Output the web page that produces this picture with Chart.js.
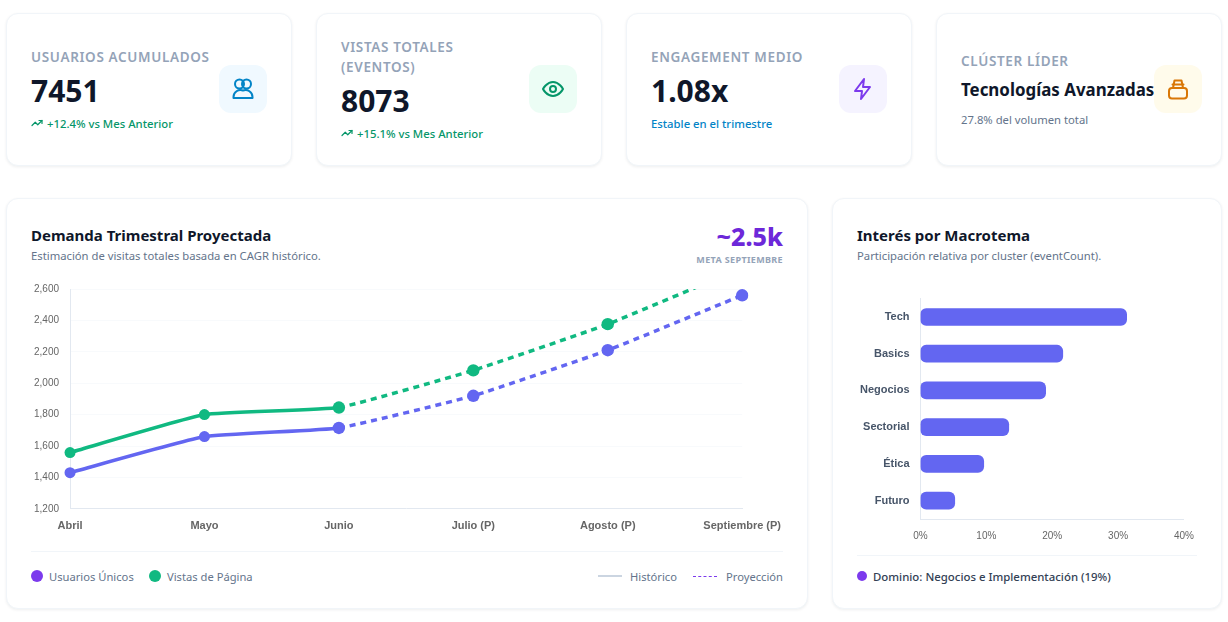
<!DOCTYPE html>
<html lang="es">
<head>
<meta charset="utf-8">
<title>Dashboard</title>
<script src="https://cdn.jsdelivr.net/npm/chart.js@4"></script>
<style>
  * { box-sizing: border-box; margin: 0; padding: 0; }
  html, body { width: 1228px; height: 622px; background: #fff; overflow: hidden; font-family: "Noto Sans", sans-serif; }
  .card { position: absolute; background: #fff; border: 1px solid #f1f5f9; border-radius: 12px; box-shadow: 0 1px 3px rgba(15,23,42,.07); }
  .abs { position: absolute; white-space: nowrap; }
  .lbl { font-size: 13.5px; line-height: 20px; font-weight: 600; color: #94a3b8; letter-spacing: .65px; }
  .val { font-size: 30px; line-height: 36px; font-weight: 700; color: #0f172a; }
  .sub { font-size: 11.3px; line-height: 16px; font-weight: 500; }
  .ico { position: absolute; width: 48px; height: 48px; border-radius: 12px; display: flex; align-items: center; justify-content: center; }
  .ico svg { width: 24px; height: 24px; fill: none; stroke-width: 2; stroke-linecap: round; stroke-linejoin: round; }
  .h2 { font-size: 15px; line-height: 20px; font-weight: 700; color: #0f172a; }
  .p { font-size: 11.27px; line-height: 16px; color: #64748b; }
  .rule { position: absolute; height: 1px; background: #f1f5f9; }
  .dot { position: absolute; width: 12px; height: 12px; border-radius: 50%; }
  .leg { font-size: 11.2px; line-height: 16px; color: #64748b; }
  canvas { position: absolute; }
</style>
</head>
<body>
<div class="card" style="left:6px;top:13px;width:286px;height:153px"></div>
<div class="card" style="left:316px;top:13px;width:286px;height:153px"></div>
<div class="card" style="left:626px;top:13px;width:286px;height:153px"></div>
<div class="card" style="left:936px;top:13px;width:286px;height:153px"></div>

<div class="abs lbl" style="left:31px;top:47px">USUARIOS ACUMULADOS</div>
<div class="abs val" style="left:31px;top:73px">7451</div>
<div class="abs sub" style="left:47px;top:116px;color:#059669">+12.4% vs Mes Anterior</div>
<svg class="abs" style="left:31px;top:117px;width:12px;height:12px" viewBox="0 0 24 24" fill="none" stroke="#059669" stroke-width="2.4" stroke-linecap="round" stroke-linejoin="round"><path d="M22 7l-8.5 8.5-5-5L2 17"/><path d="M16 7h6v6"/></svg>
<div class="ico" style="left:219px;top:65px;background:#f0f9ff"><svg viewBox="0 0 24 24" stroke="#0284c7"><circle cx="8.5" cy="7" r="4.5"/><circle cx="15.5" cy="7" r="4.5"/><path d="M2.5 21v-1a7 7 0 0 1 9.5-6.5 7 7 0 0 1 9.5 6.5v1z"/></svg></div>

<div class="abs lbl" style="left:341px;top:37px">VISTAS TOTALES</div>
<div class="abs lbl" style="left:341px;top:57px">(EVENTOS)</div>
<div class="abs val" style="left:341px;top:83px">8073</div>
<div class="abs sub" style="left:357px;top:126px;color:#059669">+15.1% vs Mes Anterior</div>
<svg class="abs" style="left:341px;top:127px;width:12px;height:12px" viewBox="0 0 24 24" fill="none" stroke="#059669" stroke-width="2.4" stroke-linecap="round" stroke-linejoin="round"><path d="M22 7l-8.5 8.5-5-5L2 17"/><path d="M16 7h6v6"/></svg>
<div class="ico" style="left:529px;top:65px;background:#ecfdf5"><svg viewBox="0 0 24 24" stroke="#059669"><path d="M2 12s3.6-7 10-7 10 7 10 7-3.6 7-10 7-10-7-10-7z"/><circle cx="12" cy="12" r="3"/></svg></div>

<div class="abs lbl" style="left:651px;top:47px">ENGAGEMENT MEDIO</div>
<div class="abs val" style="left:651px;top:73px">1.08x</div>
<div class="abs sub" style="left:651px;top:116px;color:#0284c7">Estable en el trimestre</div>
<div class="ico" style="left:839px;top:65px;background:#f5f3ff"><svg viewBox="0 0 24 24" stroke="#7c3aed"><path d="M13 2L4 14h7l-1 8 9-12h-7z"/></svg></div>

<div class="abs lbl" style="left:961px;top:51px">CLÚSTER LÍDER</div>
<div class="abs" style="left:961px;top:77px;font-size:16.9px;line-height:26px;font-weight:700;color:#0f172a">Tecnologías Avanzadas</div>
<div class="abs p" style="left:961px;top:112px">27.8% del volumen total</div>
<div class="ico" style="left:1154px;top:65px;background:#fffbeb"><svg viewBox="0 0 24 24" stroke="#d97706"><path d="M7 11l1.5-7.5h7L17 11"/><path d="M6.5 7.5h11"/><rect x="3" y="11" width="18" height="10.5" rx="3"/></svg></div>

<div class="card" style="left:6px;top:198px;width:802px;height:411px"></div>
<div class="card" style="left:832px;top:198px;width:390px;height:411px"></div>

<div class="abs h2" style="left:31px;top:225px">Demanda Trimestral Proyectada</div>
<div class="abs p" style="left:31px;top:248px">Estimación de visitas totales basada en CAGR histórico.</div>
<div class="abs" style="right:445px;top:219px;font-size:25px;line-height:34px;font-weight:800;color:#6d28d9">~2.5k</div>
<div class="abs" style="right:445px;top:253px;font-size:9px;line-height:14px;font-weight:700;letter-spacing:.35px;color:#94a3b8">META SEPTIEMBRE</div>

<canvas id="lineChart" style="left:31px;top:280px;width:753px;height:256px"></canvas>
<div class="rule" style="left:31px;top:551px;width:752px"></div>
<div class="dot" style="left:31px;top:570px;background:#7c3aed"></div>
<div class="abs leg" style="left:49px;top:569px">Usuarios Únicos</div>
<div class="dot" style="left:149px;top:570px;background:#10b981"></div>
<div class="abs leg" style="left:167px;top:569px">Vistas de Página</div>
<div class="abs" style="left:598px;top:575px;width:24px;height:2px;background:#cbd5e1"></div>
<div class="abs leg" style="left:630px;top:569px">Histórico</div>
<div class="abs" style="left:693px;top:576px;width:24px;height:0;border-top:1px dashed #7c3aed"></div>
<div class="abs leg" style="left:726px;top:569px">Proyección</div>

<div class="abs h2" style="left:857px;top:225px">Interés por Macrotema</div>
<div class="abs p" style="left:857px;top:248px">Participación relativa por cluster (eventCount).</div>

<canvas id="barChart" style="left:857px;top:289px;width:340px;height:256px"></canvas>
<div class="rule" style="left:857px;top:555px;width:340px"></div>
<div class="abs" style="left:857px;top:571px;width:10px;height:10px;border-radius:50%;background:#7c3aed"></div>
<div class="abs" style="left:873px;top:569px;font-size:11.4px;line-height:16px;font-weight:500;color:#334155">Dominio: Negocios e Implementación (19%)</div>

<script>
const months = ["Abril", "Mayo", "Junio", "Julio (P)", "Agosto (P)", "Septiembre (P)"];
const usuarios = [1430, 1660, 1715, 1920, 2210, 2560];
const vistas = [1558, 1800, 1845, 2082, 2376, 2735];
const yMin = 1200;
const yMax = 2600;

const temas = ["Tech", "Basics", "Negocios", "Sectorial", "Ética", "Futuro"];
const interes = [31.3, 21.6, 19, 13.4, 9.6, 5.2];

const dashAfterJune = { borderDash: (ctx) => (ctx.p0DataIndex >= 2 ? [6, 5] : undefined) };
const dotSize = (ctx) => (ctx.dataIndex < 2 ? 5.5 : 6.2);

new Chart(document.getElementById("lineChart"), {
  type: "line",
  data: {
    labels: months,
    datasets: [
      {
        label: "Usuarios Únicos",
        data: usuarios,
        borderColor: "#6366f1",
        backgroundColor: "#6366f1",
        pointBackgroundColor: "#6366f1",
        pointBorderWidth: 0,
        pointRadius: dotSize,
        borderWidth: 3.5,
        tension: 0.12,
        segment: dashAfterJune,
      },
      {
        label: "Vistas de Página",
        data: vistas,
        borderColor: "#10b981",
        backgroundColor: "#10b981",
        pointBackgroundColor: "#10b981",
        pointBorderWidth: 0,
        pointRadius: dotSize,
        borderWidth: 3.5,
        tension: 0.12,
        segment: dashAfterJune,
      },
    ],
  },
  options: {
    responsive: false,
    animation: false,
    layout: { padding: 0 },
    plugins: { legend: { display: false }, tooltip: { enabled: false } },
    scales: {
      x: {
        grid: { display: false },
        border: { color: "#e2e8f0" },
        ticks: { color: "#666", maxRotation: 0, font: { family: "Liberation Sans", size: 11, weight: "bold" } },
      },
      y: {
        min: yMin,
        max: yMax,
        grid: { color: "#f8fafc", tickColor: "transparent" },
        border: { color: "#e2e8f0" },
        ticks: { color: "#666", stepSize: 200, font: { family: "Liberation Sans", size: 10 } },
      },
    },
  },
});

new Chart(document.getElementById("barChart"), {
  type: "bar",
  data: {
    labels: temas,
    datasets: [
      {
        label: "Participación",
        data: interes,
        backgroundColor: "#6366f1",
        borderRadius: 6,
        borderSkipped: false,
        barThickness: 17,
      },
    ],
  },
  options: {
    indexAxis: "y",
    responsive: false,
    animation: false,
    layout: { padding: 0 },
    plugins: { legend: { display: false }, tooltip: { enabled: false } },
    scales: {
      x: {
        min: 0,
        max: 40,
        grid: { display: false },
        border: { color: "#e2e8f0" },
        ticks: { color: "#666", stepSize: 10, callback: (v) => v + "%", font: { family: "Liberation Sans", size: 10 } },
      },
      y: {
        grid: { display: false },
        border: { color: "#e2e8f0" },
        ticks: { color: "#475569", font: { family: "Liberation Sans", size: 11, weight: "bold" } },
      },
    },
  },
});
</script>
</body>
</html>
